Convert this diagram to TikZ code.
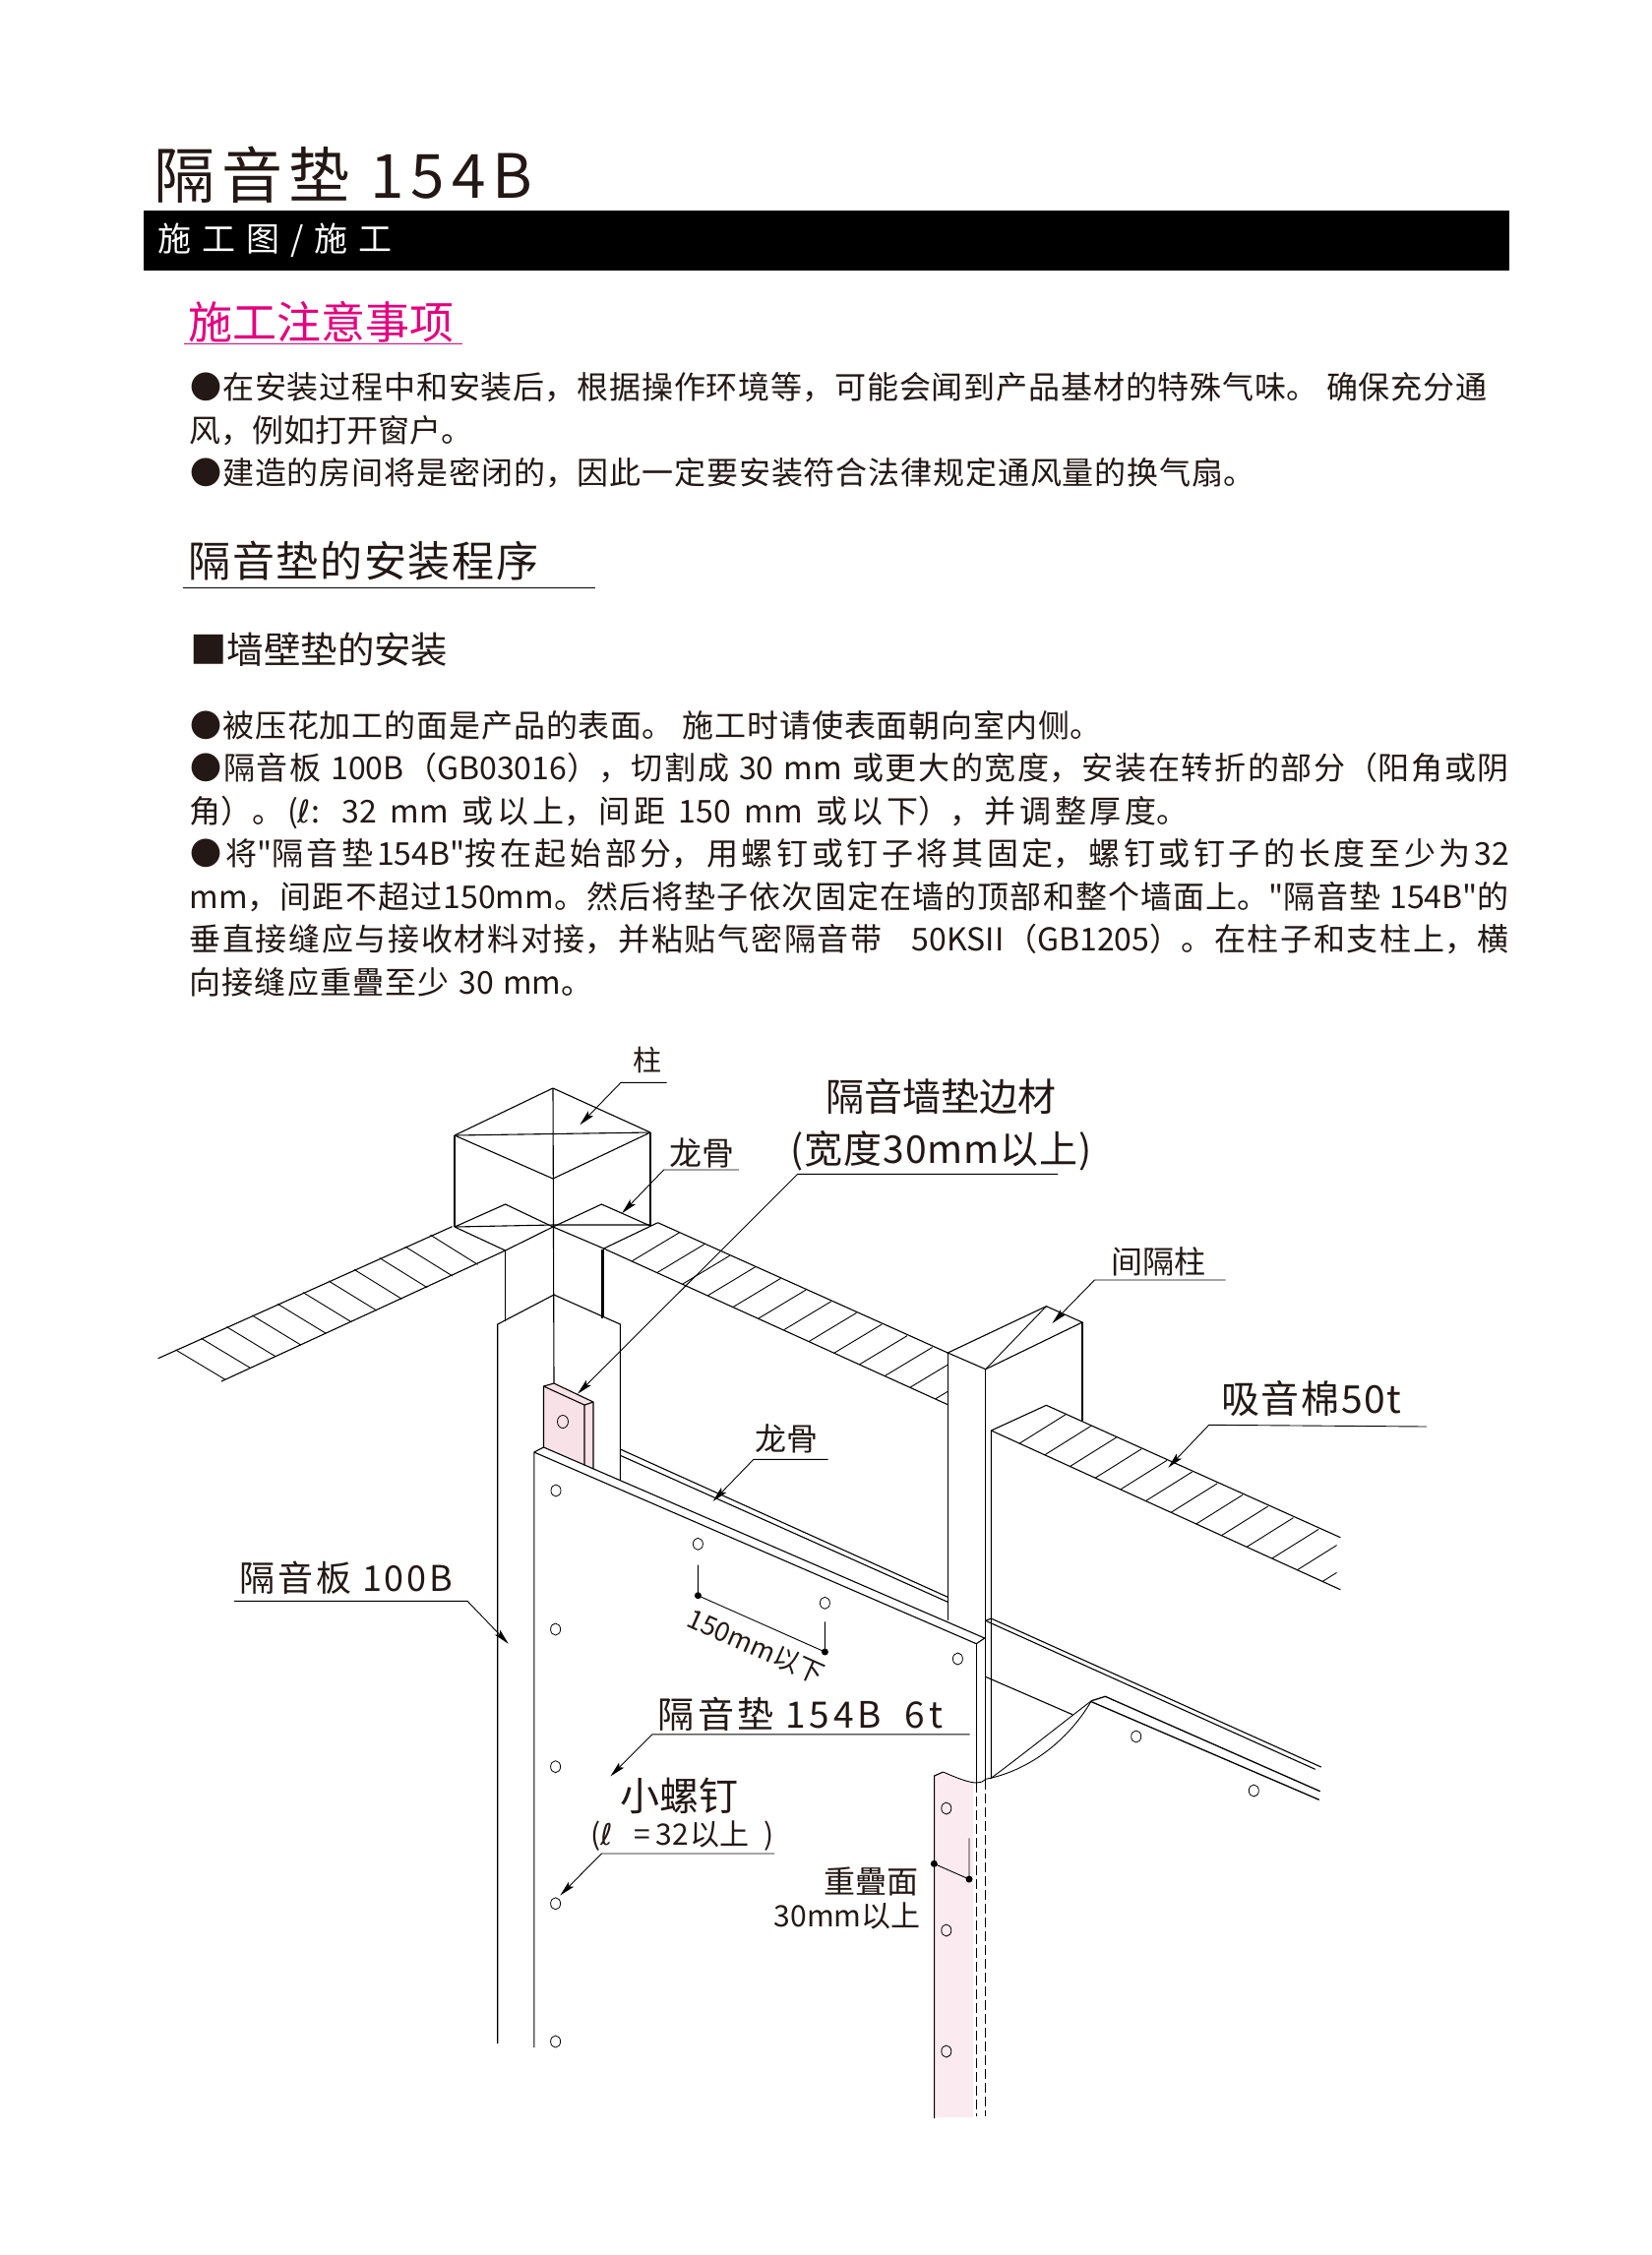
\documentclass[tikz,border=0pt]{standalone}
\usepackage{fontspec}
\setmainfont{Noto Sans CJK SC}[Ligatures=TeXOff]
\newfontfamily\symf{DejaVu Sans}
\usetikzlibrary{arrows.meta}
\definecolor{mag}{HTML}{E4007F}
\definecolor{ink}{HTML}{231815}
\definecolor{pk}{HTML}{F9E1E8}
\definecolor{pkb}{HTML}{FBEBF1}
\XeTeXlinebreaklocale "zh"
\XeTeXlinebreakskip=0pt plus 1pt
\XeTeXlinebreakpenalty=10000
\newcommand\fz[1]{\fontsize{#1}{#1}\selectfont}
\newcommand\jline[5]{\node[txt,name=#4] at (#1,#2) {\hbox{\vbox{\hsize=#3\parindent=0pt\parfillskip=0pt\tolerance=9999\hbadness=10000\hfuzz=60pt\leavevmode #5\par}}};}
\tikzset{
  txt/.style={anchor=base west,inner sep=0pt,text=ink},
  body/.style={font=\fz{16}},
  ln/.style={line width=.55pt,black},
  thn/.style={line width=.45pt,black},
  lead/.style={line width=.45pt,black,-{Stealth[length=8pt,width=3.6pt,inset=1.6pt]},line join=miter},
  dashln/.style={line width=.5pt,black,dash pattern=on 5pt off 2pt},
  hole/.style={line width=.4pt,black},
}
\begin{document}
\begin{tikzpicture}[x=.5pt,y=-.5pt,every node/.append style={body}]
\useasboundingbox (0,0) rectangle (1678,2292);
\fill[white] (0,0) rectangle (1678,2292);

% header
\node[txt,font=\fz{31}] (title) at (156,201) {\addfontfeature{LetterSpace=11}隔音垫 154B};
\fill[black] (146,214) rectangle (1534,275);
\node[txt,text=white,font=\fz{17}] (sub) at (160,255) {\addfontfeature{LetterSpace=32}施工图/施工};
\node[txt,text=mag,font=\fz{22.5}] (h1) at (191,344) {施工注意事项};
\draw[line width=.6pt,mag] (187,349.5) -- (470,349.5);

\jline{193}{405}{659pt}{a1}{●在安装过程中和安装后，根据操作环境等，可能会闻到产品基材的特殊气味。 确保充分通}
\node[txt] (a2) at (192,449) {风，例如打开窗户。};
\jline{193}{492}{541pt}{a3}{●建造的房间将是密闭的，因此一定要安装符合法律规定通风量的换气扇。}

\node[txt,font=\fz{21.5}] (h2) at (191,586) {\addfontfeature{LetterSpace=4}隔音垫的安装程序};
\draw[thn] (186,597) -- (604.5,597);
\node[txt,font=\fz{18.7}] (h3) at (193,674) {■墙壁垫的安装};

\jline{193}{749}{463pt}{b1}{●被压花加工的面是产品的表面。 施工时请使表面朝向室内侧。}
\jline{193}{792.5}{670.25pt}{b2}{●隔音板 100B（GB03016），切割成 30 mm 或更大的宽度，安装在转折的部分（阳角或阴}
\jline{192}{836}{507.5pt}{b3}{角）。({\symf ℓ}: 32 mm 或以上，间距 150 mm 或以下），并调整厚度。}
\jline{193}{879.5}{670.25pt}{b4}{●将"隔音垫154B"按在起始部分，用螺钉或钉子将其固定，螺钉或钉子的长度至少为32}
\jline{192}{923}{670.75pt}{b5}{mm，间距不超过150mm。然后将垫子依次固定在墙的顶部和整个墙面上。"隔音垫 154B"的}
\jline{192}{966.5}{670.75pt}{b6}{垂直接缝应与接收材料对接，并粘贴气密隔音带 \ \ 50KSII（GB1205）。在柱子和支柱上，横}
\jline{192}{1010}{205pt}{b7}{向接缝应重疊至少 30 mm。}

% ===== drawing =====
% left insulation
\draw[ln] (160.7,1380.7) -- (459.6,1246.7);
\draw[ln] (225,1404) -- (513.6,1271);
\foreach \k in {0,...,10}
  \draw[thn] ({178.6+25.9*\k},{1372-11.67*\k}) -- ({228.6+25.7*\k},{1402-11.67*\k});
% column head
\draw[ln,line join=bevel] (562,1106) -- (462,1154) -- (562,1198) -- (661,1151) -- cycle;
\draw[ln] (462,1154) -- (661,1151);
\draw[ln] (462,1154) -- (462,1247) (661,1151) -- (661,1246);
\draw[ln] (562,1106) -- (563,1406);
\draw[ln] (462,1247) -- (513.6,1224) -- (562,1247) -- (611.4,1224) -- (661,1246);
\draw[ln] (462,1247) -- (562,1245) -- (661,1245);
\draw[ln] (462,1247) -- (513.6,1271) -- (562,1247) -- (613.6,1269) -- (668.6,1242.7);
% wall posts
\draw[ln] (513.6,1271) -- (513.6,1343);
\draw[ln] (612,1270) -- (612,1340) (613.8,1269) -- (613.8,1339);
\draw[ln] (505.7,2077) -- (505.7,1346) -- (563,1316) -- (630.4,1346) -- (630.4,1504);
% upper right insulation
\draw[ln] (668.6,1242.7) -- (963.3,1375);
\draw[ln] (613.6,1269) -- (963.3,1427.7);
\begin{scope}
\clip (600,1230) rectangle (963.3,1440);
\foreach \k in {0,...,12}
  \draw[thn] ({642.4+25.7*\k},{1281.7+11.67*\k}) -- ({690.6+25.7*\k},{1252.7+11.67*\k});
\end{scope}
% spacer post
\draw[ln] (963.3,1375) -- (1063.4,1327.7) -- (1100,1344) -- (1001.7,1391.7) -- cycle;
\draw[ln] (963.3,1375) -- (963.3,1647.3);
\draw[thn] (1063.4,1327.7) -- (1001.7,1391.7);
\draw[ln] (1100,1344) -- (1100,1444);
\draw[ln] (1001.7,1391.7) -- (1001.7,1809);
% right insulation
\draw[ln] (1007.4,1807.7) -- (1007.4,1454) -- (1063.4,1428.3) -- (1362.3,1562.7);
\draw[ln] (1007.4,1454) -- (1362.3,1615.7);
\begin{scope}
\clip (1000,1420) rectangle (1358.6,1620);
\foreach \k in {0,...,12}
  \draw[thn] ({1035.8+25.7*\k},{1467.3+11.67*\k}) -- ({1083.1+25.7*\k},{1437.7+11.67*\k});
\end{scope}
% tab
\fill[pk] (552.5,1409) -- (563,1406) -- (603,1425) -- (603,1493) -- (552.5,1471) -- cycle;
\draw[ln,line join=round] (552.5,1471) -- (552.5,1409) -- (563,1406) -- (603,1425) -- (603,1493);
\draw[ln] (552.5,1409) -- (594,1428) -- (603,1425) (594,1428) -- (594,1489);
\draw[hole] (572,1445) ellipse (5.5 and 6.5);
% upper rail
\draw[ln] (630.4,1473) -- (963.3,1623.3);
\draw[ln] (630.4,1479.3) -- (963.3,1628.3);
% panel
\draw[ln] (542.8,2081) -- (542.8,1476) -- (552.5,1471) -- (1000.7,1665) -- (992.3,1670.7) -- (542.8,1476);
\draw[ln] (992.3,1670.7) -- (992.3,1812);
% lower right rail
\draw[ln] (1001.7,1647.3) -- (1007.3,1645) -- (1342.7,1796);
\draw[ln] (1001.7,1647.3) -- (1336.7,1798.3);
\draw[ln] (1001.7,1704.3) -- (1090,1742.7);
\draw[line width=.65pt] (1109.3,1728.7) -- (1123.3,1724.3) -- (1341.7,1820.7);
\draw[line width=.65pt] (1109.3,1729.7) -- (1340.7,1829.3);
\draw[thn] (1006.7,1807.7) .. controls (1040,1783) and (1080,1751) .. (1109.3,1728.7);
\draw[thn] (1001.7,1808.3) .. controls (1045,1800) and (1085,1770) .. (1109.3,1728.7);
% strip
\fill[pkb] (949.6,1805) -- (958.6,1801) .. controls (970,1806) and (980,1810) .. (989,1811.5) -- (989,2152) -- (949.6,2152) -- cycle;
\draw[ln] (949.6,2153) -- (949.6,1805) -- (958.6,1801);
\draw[thn] (958.6,1801) .. controls (972,1807) and (985,1812) .. (992.5,1812) .. controls (996,1812) and (999,1811) .. (1001.7,1808.3);
\draw[dashln] (992.4,1812) -- (992.4,2151);
\draw[dashln] (1001.6,1809) -- (1001.6,2151);
% holes
\foreach \x/\y in {565/1515,564.6/1656,564.6/1795.7,564.6/1934.8,564.6/2075,709.4/1569.3,838.4/1629.3,973.4/1686,1154.7/1765,1274.3/1820,961.8/1838,961.8/1962,961.8/2085}
  \draw[hole] (\x,\y) ellipse (5 and 6);

% dims
\coordinate (d1a) at (709.4,1590.7); \coordinate (d1b) at (709.4,1621.7);
\coordinate (d2a) at (838.4,1648.3); \coordinate (d2b) at (838.4,1679);
\draw[thn] (d1a) -- (d1b) -- (d2b) -- (d2a);
\fill (d1b) circle (3.5); \fill (d2b) circle (3.5);
\node[txt,font=\fz{13.5},rotate=-24] (dimt) at (696,1652) {150mm以下};
\coordinate (o1) at (949.3,1894.3); \coordinate (o2) at (985,1910); \coordinate (o3) at (985,1868.4);
\draw[thn] (o1) -- (o2) -- (o3);
\fill (o1) circle (3.5); \fill (o2) circle (3.5);
\node[txt,anchor=base east,font=\fz{16}] (ol1) at (934,1924) {重疊面};
\node[txt,anchor=base east,font=\fz{15}] (ol2) at (936,1958) {30mm以上};

% labels & leaders
\node[txt,font=\fz{14.5}] (l1) at (643.5,1088) {柱};
\coordinate (l1e) at (677.5,1100.3); \coordinate (l1k) at (631,1100.3); \coordinate (l1t) at (589.3,1143.3);
\draw[lead] (l1e) -- (l1k) -- (l1t);

\node[txt,font=\fz{16.5}] (l2) at (680,1184) {龙骨};
\coordinate (l2e) at (751,1189); \coordinate (l2k) at (674.6,1189); \coordinate (l2t) at (632,1233.3);
\draw[lead] (l2e) -- (l2k) -- (l2t);

\node[txt,font=\fz{19.5}] (l3) at (839,1129) {隔音墙垫边材};
\node[txt,font=\fz{19.5}] (l3b) at (803,1182) {\addfontfeature{LetterSpace=2.5}(宽度30mm以上)};
\coordinate (l3e) at (1075,1193.3); \coordinate (l3k) at (810.7,1193.3); \coordinate (l3t) at (587,1416.7);
\draw[lead] (l3e) -- (l3k) -- (l3t);

\node[txt,font=\fz{16}] (l4) at (1129,1294) {间隔柱};
\coordinate (l4e) at (1245.7,1301); \coordinate (l4k) at (1112.5,1301); \coordinate (l4t) at (1069.4,1345);
\draw[lead] (l4e) -- (l4k) -- (l4t);

\node[txt,font=\fz{19.5}] (l5) at (1241,1436) {\addfontfeature{LetterSpace=4}吸音棉50t};
\coordinate (l5e) at (1450,1450); \coordinate (l5k) at (1228.7,1448.3); \coordinate (l5t) at (1187.3,1491.7);
\draw[lead] (l5e) -- (l5k) -- (l5t);

\node[txt,font=\fz{16}] (l6) at (767,1474) {龙骨};
\coordinate (l6e) at (841.6,1483.3); \coordinate (l6k) at (765.9,1483.3); \coordinate (l6t) at (724.5,1526);
\draw[lead] (l6e) -- (l6k) -- (l6t);

\node[txt,font=\fz{18}] (l7) at (243,1617) {\addfontfeature{LetterSpace=8}隔音板 100B};
\coordinate (l7e) at (238,1627.3); \coordinate (l7k) at (475,1627.3); \coordinate (l7t) at (516.7,1670.7);
\draw[lead] (l7e) -- (l7k) -- (l7t);

\node[txt,font=\fz{18.5}] (l8) at (668,1756) {\addfontfeature{LetterSpace=10}隔音垫 154B\ \ 6t};
\coordinate (l8e) at (985.6,1762.8); \coordinate (l8k) at (662.9,1762.8); \coordinate (l8t) at (620.4,1805.4);
\draw[lead] (l8e) -- (l8k) -- (l8t);

\node[txt,font=\fz{20}] (l9) at (630,1840) {小螺钉};
\node[txt,font=\fz{15}] (l9b) at (600,1875) {\addfontfeature{LetterSpace=2}({\symf ℓ}\ \ \ =\,32以上\ \ )};
\coordinate (l9e) at (787,1884); \coordinate (l9k) at (611.4,1884); \coordinate (l9t) at (569.3,1926.5);
\draw[lead] (l9e) -- (l9k) -- (l9t);
\end{tikzpicture}
\end{document}
